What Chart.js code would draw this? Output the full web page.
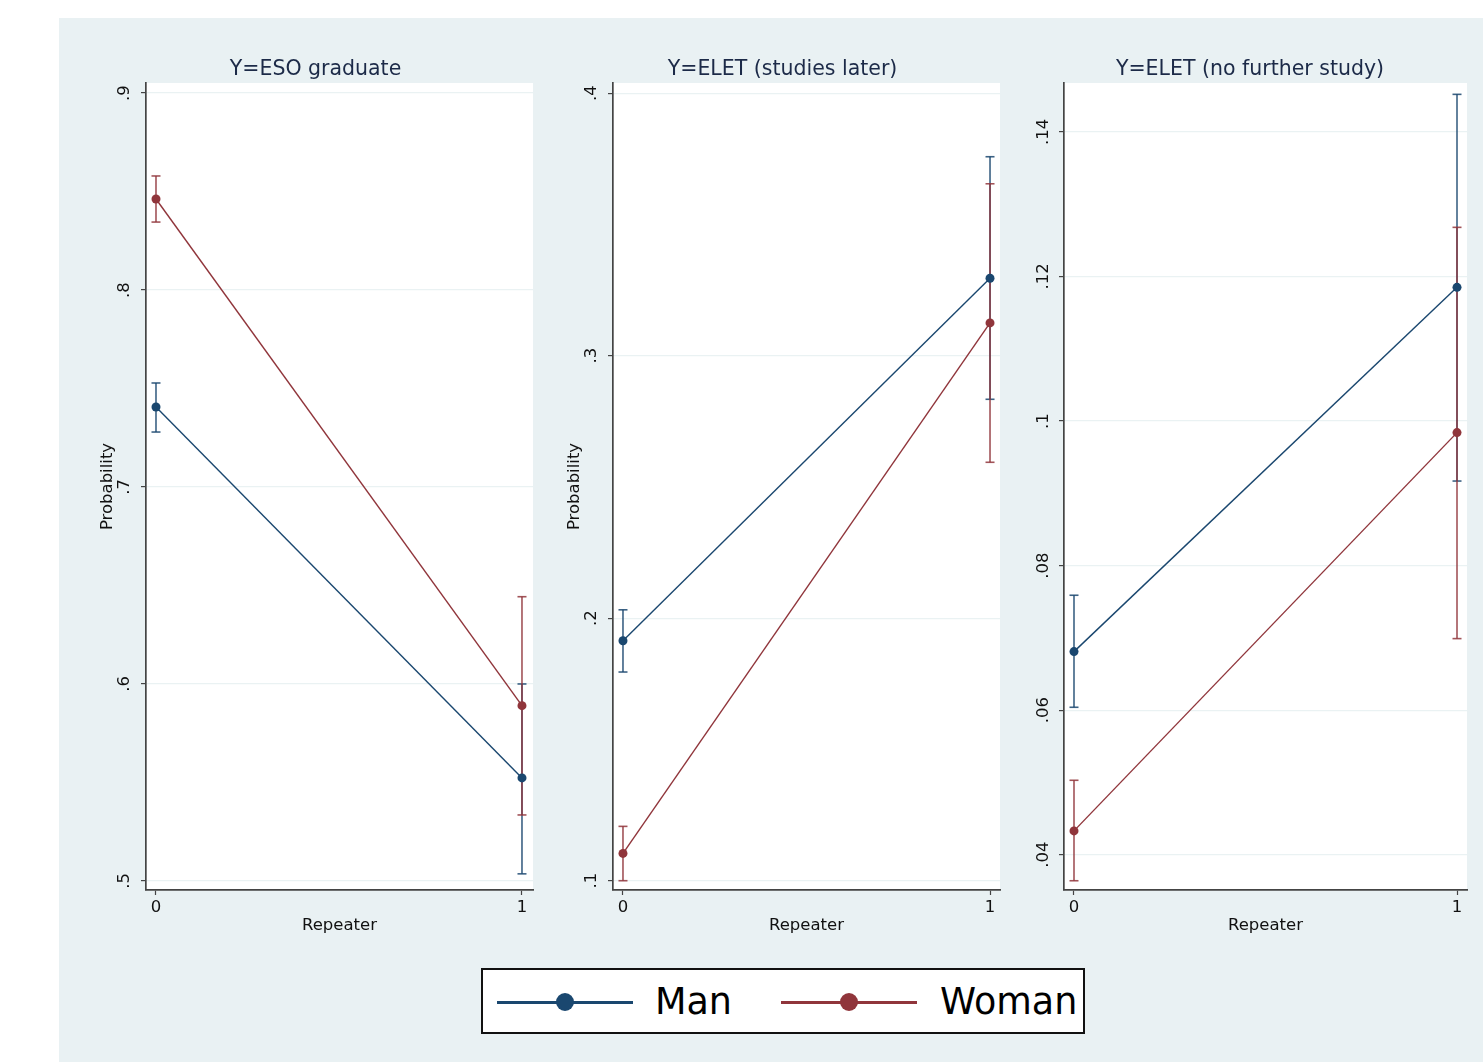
<!DOCTYPE html>
<html>
<head>
<meta charset="utf-8">
<script src="https://cdn.jsdelivr.net/npm/chart.js@4.4.1/dist/chart.umd.min.js"></script>
<style>
  html, body { margin: 0; padding: 0; background: #ffffff; }
  body { width: 1483px; height: 1062px; position: relative; overflow: hidden; font-family: "DejaVu Sans", sans-serif; }
  #bg { position: absolute; left: 59px; top: 18px; width: 1424px; height: 1044px; background: #e9f1f3; }
  .pane { position: absolute; }
  #legend { position: absolute; left: 481px; top: 968px; width: 604px; height: 66px; box-sizing: border-box;
            border: 2px solid #111; background: #fff; }
  .lg-line { position: absolute; height: 3px; top: 31px; }
  .lg-dot { position: absolute; width: 18px; height: 18px; border-radius: 50%; top: 23px; }
  .lg-text { position: absolute; top: 10px; font-size: 36.5px; line-height: 44px; color: #000; font-family: "DejaVu Sans", sans-serif; }
</style>
</head>
<body>
<div id="bg"></div>
<div class="pane" style="left:98px;top:40px;width:447px;height:896px;"><canvas id="c1"></canvas></div>
<div class="pane" style="left:565px;top:40px;width:447px;height:896px;"><canvas id="c2"></canvas></div>
<div class="pane" style="left:1033px;top:40px;width:446px;height:896px;"><canvas id="c3"></canvas></div>
<div id="legend">
  <div class="lg-line" style="left:14px;width:136px;background:#1a476f;"></div>
  <div class="lg-dot" style="left:73px;background:#1a476f;"></div>
  <div class="lg-text" style="left:172px;">Man</div>
  <div class="lg-line" style="left:298px;width:136px;background:#90353b;"></div>
  <div class="lg-dot" style="left:357px;background:#90353b;"></div>
  <div class="lg-text" style="left:457px;">Woman</div>
</div>
<script>
// ---- Data ----
const repeater = [0, 1];
const seriesNames = ["Man", "Woman"];
const panelTitles = ["Y=ESO graduate", "Y=ELET (studies later)", "Y=ELET (no further study)"];
const xAxisTitle = "Repeater";
const yAxisTitle = "Probability";

// Y=ESO graduate
const manESO      = [0.7406, 0.5523];
const manESOLo    = [0.7279, 0.5036];
const manESOHi    = [0.7528, 0.6000];
const womanESO    = [0.8462, 0.5890];
const womanESOLo  = [0.8345, 0.5335];
const womanESOHi  = [0.8579, 0.6443];
const ticksESO    = [0.5, 0.6, 0.7, 0.8, 0.9];

// Y=ELET (studies later)
const manLater     = [0.1914, 0.3295];
const manLaterLo   = [0.1795, 0.2834];
const manLaterHi   = [0.2032, 0.3758];
const womanLater   = [0.1104, 0.3125];
const womanLaterLo = [0.1000, 0.2594];
const womanLaterHi = [0.1207, 0.3655];
const ticksLater   = [0.1, 0.2, 0.3, 0.4];

// Y=ELET (no further study)
const manNone     = [0.0681, 0.1185];
const manNoneLo   = [0.0604, 0.0917];
const manNoneHi   = [0.0759, 0.1452];
const womanNone   = [0.0433, 0.0984];
const womanNoneLo = [0.0364, 0.0699];
const womanNoneHi = [0.0503, 0.1268];
const ticksNone   = [0.04, 0.06, 0.08, 0.10, 0.12, 0.14];

const xTicks = [0, 1];

// ---- Styles ----
const NAVY = "#1a476f";
const MAROON = "#90353b";
const NAVY_CI = "rgba(26,71,111,0.85)";
const MAROON_CI = "rgba(144,53,59,0.85)";
const FONT = "DejaVu Sans";
const AXIS = "#444444";

const panels = [
  { id: "c1", title: panelTitles[0], man: manESO, manLo: manESOLo, manHi: manESOHi,
    woman: womanESO, womanLo: womanESOLo, womanHi: womanESOHi, ticks: ticksESO,
    yMin: 0.4954, yMax: 0.9051, xMin: -0.0273, xMax: 1.0301, yWidth: 48, yTitle: true, tickPad: 8 },
  { id: "c2", title: panelTitles[1], man: manLater, manLo: manLaterLo, manHi: manLaterHi,
    woman: womanLater, womanLo: womanLaterLo, womanHi: womanLaterHi, ticks: ticksLater,
    yMin: 0.09646, yMax: 0.40389, xMin: -0.0272, xMax: 1.0272, yWidth: 48, yTitle: true, tickPad: 8 },
  { id: "c3", title: panelTitles[2], man: manNone, manLo: manNoneLo, manHi: manNoneHi,
    woman: womanNone, womanLo: womanNoneLo, womanHi: womanNoneHi, ticks: ticksNone,
    yMin: 0.03512, yMax: 0.14677, xMin: -0.0261, xMax: 1.0261, yWidth: 31, yTitle: false, tickPad: 2 }
];

function fmt(v) {
  let s = String(+v.toFixed(3));
  return s.replace(/^0\./, ".");
}

const whitePlot = {
  id: "whitePlot",
  beforeDraw(chart) {
    const a = chart.chartArea, ctx = chart.ctx;
    ctx.save();
    ctx.fillStyle = "#ffffff";
    ctx.fillRect(a.left, a.top, a.right - a.left, a.bottom - a.top);
    ctx.restore();
  }
};

function lineDs(label, vals, color) {
  return {
    label, data: repeater.map((x, i) => ({ x, y: vals[i] })),
    borderColor: color, backgroundColor: color, borderWidth: 1.4,
    pointRadius: 4.5, pointHoverRadius: 4.5, pointBorderWidth: 0, pointStyle: "circle",
    showLine: true, order: 0
  };
}
function ciDs(label, i, lo, hi, color) {
  return {
    label, data: [{ x: repeater[i], y: lo[i] }, { x: repeater[i], y: hi[i] }],
    borderColor: color, backgroundColor: color, borderWidth: 1.6,
    pointStyle: "line", pointRadius: 4.5, pointHoverRadius: 4.5, pointBorderWidth: 1.6,
    pointBorderColor: color, showLine: true, order: 0
  };
}

panels.forEach(p => {
  const datasets = [
    lineDs(seriesNames[0], p.man, NAVY),
    lineDs(seriesNames[1], p.woman, MAROON),
    ciDs(seriesNames[1] + " CI 0", 0, p.womanLo, p.womanHi, MAROON_CI),
    ciDs(seriesNames[1] + " CI 1", 1, p.womanLo, p.womanHi, MAROON_CI),
    ciDs(seriesNames[0] + " CI 0", 0, p.manLo, p.manHi, NAVY_CI),
    ciDs(seriesNames[0] + " CI 1", 1, p.manLo, p.manHi, NAVY_CI)
  ];
  new Chart(document.getElementById(p.id), {
    type: "scatter",
    data: { datasets },
    plugins: [whitePlot],
    options: {
      responsive: true, maintainAspectRatio: false, animation: false,
      events: [],
      layout: { padding: { left: 0, right: 12, top: 0, bottom: 0 } },
      plugins: {
        legend: { display: false },
        tooltip: { enabled: false },
        title: { display: true, text: p.title, color: "#1c2a48",
                 font: { family: FONT, size: 20.5, weight: "normal", lineHeight: 1.2 },
                 padding: { top: 17, bottom: 1.4 } }
      },
      scales: {
        x: {
          type: "linear", min: p.xMin, max: p.xMax,
          afterBuildTicks: s => { s.ticks = xTicks.map(v => ({ value: v })); },
          afterFit: s => { s.height = 46; },
          grid: { display: true, drawOnChartArea: false, drawTicks: true, tickLength: 5, tickColor: AXIS, tickWidth: 1.2 },
          border: { display: true, color: AXIS, width: 1.7 },
          ticks: { color: "#111", padding: 3, font: { family: FONT, size: 16.5 }, callback: v => String(v), maxRotation: 0, minRotation: 0 },
          title: { display: true, text: xAxisTitle, color: "#111", font: { family: FONT, size: 16.5, lineHeight: 1.2 }, padding: { top: 0, bottom: 0 } }
        },
        y: {
          type: "linear", min: p.yMin, max: p.yMax,
          afterBuildTicks: s => { s.ticks = p.ticks.map(v => ({ value: v })); },
          afterFit: s => { s.width = p.yWidth; },
          grid: { display: true, drawOnChartArea: true, color: "#eaf2f3", lineWidth: 1.2, drawTicks: true, tickLength: 5, tickColor: AXIS, tickWidth: 1.2 },
          border: { display: true, color: AXIS, width: 1.7 },
          ticks: { color: "#111", padding: p.tickPad, crossAlign: "center", minRotation: 90, maxRotation: 90,
                   font: { family: FONT, size: 16.5 }, callback: v => fmt(v) },
          title: { display: p.yTitle, text: yAxisTitle, color: "#111", font: { family: FONT, size: 16.5, lineHeight: 1.2 }, padding: { top: 0, bottom: 0 } }
        }
      }
    }
  });
});
</script>
</body>
</html>
